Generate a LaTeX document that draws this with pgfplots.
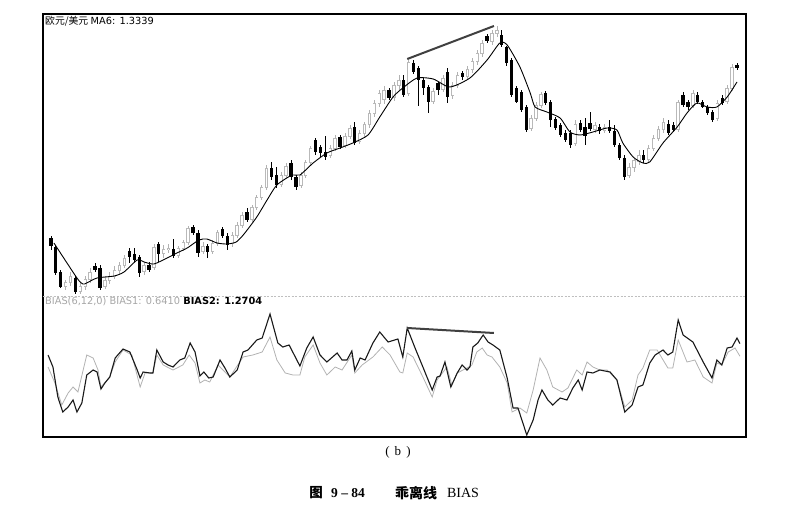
\documentclass[border=0pt]{standalone}
\usepackage{fontspec}
\setmainfont{Liberation Serif}
\newfontfamily\cjk{Noto Sans CJK SC}
\newfontfamily\dejavu{DejaVu Sans}
\usepackage{pgfplots}
\usepackage{pgfplotstable}
\pgfplotsset{compat=1.18}

% EUR/USD daily candles (falling = black, rising = hollow grey)
\pgfplotstableread{
i o h l c
0 62 64 50 54
1 53 55 25 27
2 28 30 12 13
5 22 24 6 8
9 34 37 28 30
10 32 35 10 12
16 49 52 37 43
17 46 52 38 40
18 43 45 23 27
20 35 38 28 30
22 56 58 38 46
25 51 61 42 44
29 73 75 65 67
30 67 70 43 47
32 54 56 42 48
35 71 73 62 64
36 64 67 50 55
40 88 92 78 80
45 132 138 120 123
46 125 133 112 115
49 137 140 120 123
50 123 125 110 113
54 160 162 145 148
55 153 155 143 147
56 148 164 140 143
59 163 165 151 153
62 173 178 155 157
69 210 212 200 202
72 220 225 203 205
74 237 240 226 228
75 232 234 194 220
76 220 222 205 212
77 213 215 187 198
79 217 218 205 210
81 228 232 197 203
84 227 229 220 223
89 264 266 257 259
92 265 270 253 255
93 253 254 234 237
94 240 242 203 205
95 212 214 197 198
96 208 210 188 190
97 193 195 168 170
101 207 209 195 197
102 198 200 173 180
103 181 183 170 172
104 175 177 163 165
105 167 170 158 160
106 167 170 152 155
108 177 180 168 170
109 173 182 155 164
110 177 188 169 171
112 173 176 166 169
114 173 180 167 169
115 169 175 153 155
116 155 157 140 142
117 142 145 120 123
121 145 150 137 140
126 176 180 165 167
127 175 178 168 170
129 205 208 193 195
130 198 200 190 193
132 205 208 196 198
133 198 200 192 193
134 193 195 185 187
135 188 190 178 180
137 202 205 195 197
140 235 237 230 232
}\down

\pgfplotstableread{
i o h l c
3 13 20 10 18
4 17 28 14 24
6 8 17 6 14
7 13 24 10 21
8 20 32 17 28
11 13 24 11 20
12 19 28 16 24
13 23 34 21 30
14 29 38 26 35
15 34 45 32 42
19 28 38 25 35
21 32 56 30 53
23 46 55 42 51
24 50 56 47 52
26 44 54 42 52
27 51 60 49 58
28 57 74 55 72
31 48 58 46 54
33 48 60 46 57
34 56 70 54 68
37 56 68 53 65
38 64 78 62 75
39 74 88 72 85
41 80 95 78 93
42 92 105 90 103
43 102 115 100 113
44 112 135 110 132
47 115 128 113 125
48 124 137 122 134
51 114 128 112 125
52 124 140 122 138
53 137 154 135 152
57 144 155 142 152
58 151 165 149 162
60 154 167 152 164
61 163 175 161 172
63 158 170 156 167
64 166 178 163 176
65 175 190 172 187
66 186 200 183 197
67 196 210 193 207
68 200 214 196 210
70 202 218 199 215
71 214 225 210 220
73 206 242 204 238
78 198 212 196 209
80 210 225 208 222
82 204 218 201 215
83 214 228 212 225
85 223 234 220 231
86 230 242 227 239
87 238 250 235 247
88 246 260 243 257
90 258 270 255 267
91 266 274 263 270
98 171 185 169 182
99 181 198 179 195
100 194 208 192 206
107 156 180 154 176
111 170 178 167 175
113 169 176 167 173
118 124 137 122 133
119 132 142 128 140
120 138 150 135 145
122 140 155 138 152
123 151 165 149 162
124 161 174 159 171
125 170 182 167 178
128 170 200 168 198
131 194 210 192 207
136 181 200 179 197
138 198 215 196 212
139 211 236 209 233
}\up

% MA6
\pgfplotstableread{
i v
0.6 57
5.3 22
6.5 16
7.3 17
9.4 22
12.9 24
14.9 28
17.6 40
19.0 38
21.0 36
23.7 42
25.7 47
27.8 52
30.2 60
31.8 61
33.9 57
35.9 56
37.8 58
39.4 66
42.0 83
44.1 100
46.1 115
49.2 125
50.8 125
53.5 137
56.3 147
59.0 152
61.6 157
64.7 165
67.1 183
69.8 203
71.8 212
74.7 222
78.0 221
81.4 213
85.5 222
89.0 240
91.6 257
93.1 255
95.7 233
97.8 207
98.8 193
101.2 188
103.9 182
105.9 168
108.0 165
110.6 168
113.5 172
115.5 170
116.7 157
118.8 143
120.8 137
122.2 138
124.9 157
127.8 173
129.8 187
131.8 197
133.9 193
135.9 193
138.0 203
140.0 218
}\ma

% BIAS2 (12)
\pgfplotstableread{
i b
-0.6 0.70
0.4 0.10
1.4 -1.40
2.4 -2.15
3.5 -1.90
4.5 -1.55
5.3 -2.15
6.3 -1.70
7.3 -0.30
8.6 -0.05
9.4 -0.15
10.2 -1.00
11.0 -0.70
12.0 -0.40
13.1 0.55
14.7 1.00
16.1 0.85
17.6 -0.05
18.2 -0.45
18.8 -0.15
20.2 -0.20
20.8 -0.20
21.6 0.95
22.9 0.35
23.9 0.20
24.9 0.10
26.3 0.45
27.3 0.55
28.4 1.30
29.4 0.85
30.4 -0.35
31.2 -0.15
32.2 -0.45
33.1 -0.40
34.5 0.45
35.5 0.05
36.5 -0.40
38.0 -0.05
39.2 0.85
40.2 0.95
42.0 1.45
43.1 1.55
44.7 2.75
46.3 1.30
47.3 1.10
48.6 1.20
50.8 0.15
52.2 1.05
53.5 1.60
54.9 0.70
56.3 0.35
58.4 0.80
59.4 0.45
60.4 0.45
61.4 0.90
62.0 -0.05
63.1 0.55
64.1 0.45
65.7 1.30
67.1 1.85
68.8 1.35
70.8 1.50
71.8 0.60
72.7 2.05
74.3 1.05
75.9 0.10
77.8 -1.05
78.8 -0.40
79.4 -0.35
80.4 0.35
81.6 -0.90
82.9 -0.20
83.9 0.20
84.9 -0.05
85.5 0.10
86.1 1.10
87.1 1.30
88.2 1.70
89.2 1.35
90.2 1.20
91.6 0.95
93.1 -0.45
94.3 -1.95
95.3 -1.95
97.1 -3.30
98.4 -2.55
99.4 -1.55
100.2 -1.05
101.4 -1.55
102.4 -1.80
103.9 -1.45
105.3 -1.55
106.5 -0.95
107.6 -0.55
108.4 -1.05
109.4 -0.15
110.6 -0.20
112.0 -0.05
114.1 -0.15
115.5 -0.55
117.1 -2.15
118.6 -1.80
119.8 -0.90
120.8 -0.80
122.2 0.30
123.3 0.70
124.9 0.95
125.9 0.70
126.9 0.85
128.0 2.45
129.0 1.70
131.0 1.35
133.1 0.35
134.9 -0.45
135.9 0.45
136.9 0.20
138.0 1.05
139.0 1.10
140.0 1.55
140.6 1.27
}\biastwo

% BIAS1 (6)
\pgfplotstableread{
i b
-0.6 0.10
0.8 -0.70
2.2 -1.80
3.5 -1.20
4.5 -0.90
5.5 -1.15
7.3 0.70
8.6 0.55
9.6 -0.05
10.2 -0.90
12.0 -0.40
13.1 0.35
14.7 0.95
16.5 0.70
18.2 -0.90
19.2 -0.20
20.8 -0.20
21.6 0.70
22.9 0.20
24.9 -0.05
26.9 0.20
28.2 0.70
29.4 0.30
30.4 -0.70
31.4 -0.55
32.4 -0.65
34.1 0.20
36.5 -0.40
39.2 0.60
41.2 0.70
43.1 0.85
44.7 1.60
46.1 0.45
47.8 -0.20
49.4 -0.30
50.8 -0.30
51.8 0.60
53.5 1.20
54.9 0.30
56.3 -0.30
58.0 0.10
59.4 -0.05
61.4 0.70
62.0 -0.20
63.5 0.20
65.7 0.60
67.6 1.10
69.2 0.70
71.2 -0.15
71.8 -0.20
72.7 0.80
73.9 0.60
75.9 -0.40
77.8 -1.40
78.8 -0.55
80.8 0.10
81.8 -0.80
82.9 -0.20
84.9 0.05
85.9 0.20
86.9 0.85
88.0 1.05
89.0 0.70
90.0 0.60
91.6 0.10
93.1 -0.70
94.1 -2.15
95.7 -1.95
97.1 -2.20
98.4 -1.05
99.8 0.55
101.2 -0.05
102.4 -0.90
104.3 -1.15
105.5 -0.95
107.3 -0.05
108.4 -0.30
109.4 0.35
110.6 0.10
112.0 -0.05
113.5 -0.05
115.5 -0.55
117.1 -1.90
118.6 -1.55
119.8 -0.30
120.8 0.05
122.2 0.95
123.7 0.95
125.9 0.05
126.9 0.05
128.0 1.45
129.8 0.35
131.4 0.45
133.1 -0.40
134.9 -0.70
135.9 0.30
136.9 0.20
138.2 0.85
139.6 1.05
140.6 0.64
}\biasone

\pgfplotsset{
  candle/.style={draw=none, mark=none, error bars/.cd, y explicit, error mark=none},
}

\begin{document}
\begin{tikzpicture}
\useasboundingbox (0bp,0bp) rectangle (810bp,519bp);

% price panel
\begin{axis}[at={(43bp,223bp)}, anchor=south west, scale only axis,
    width=703bp, height=282bp,
    xmin=-1.63, xmax=141.84, ymin=4, ymax=286, hide axis]
    % rising candles: wick, grey outline, white inside
    \addplot[candle, y dir=plus,
        error bar style={line width=0.7bp, line cap=butt, draw=gray!60}]
        table[x=i, y=l, y error expr=\thisrow{h}-\thisrow{l}] {\up};
    \addplot[candle, y dir=both,
        error bar style={line width=3.4bp, line cap=butt, draw=gray!55}]
        table[x=i, y expr=(\thisrow{o}+\thisrow{c})/2, y error expr=(\thisrow{c}-\thisrow{o})/2] {\up};
    \addplot[candle, y dir=both,
        error bar style={line width=1.8bp, line cap=butt, draw=white}]
        table[x=i, y expr=(\thisrow{o}+\thisrow{c})/2, y error expr=(\thisrow{c}-\thisrow{o})/2-0.8] {\up};
    % falling candles
    \addplot[candle, y dir=plus,
        error bar style={line width=0.9bp, line cap=butt, draw=black}]
        table[x=i, y=l, y error expr=\thisrow{h}-\thisrow{l}] {\down};
    \addplot[candle, y dir=both,
        error bar style={line width=3.2bp, line cap=butt, draw=black}]
        table[x=i, y expr=(\thisrow{o}+\thisrow{c})/2, y error expr=(\thisrow{o}-\thisrow{c})/2] {\down};
    % MA6
    \addplot[black, line width=0.9bp, smooth, tension=0.4] table[x=i, y=v] {\ma};
    % trend line over the highs
    \addplot[black!75, line width=2bp] coordinates {(72.7,241) (90.4,274)};
\end{axis}

% BIAS panel
\begin{axis}[at={(43bp,82bp)}, anchor=south west, scale only axis,
    width=703bp, height=141bp,
    xmin=-1.63, xmax=141.84, ymin=-3.4, ymax=3.65, hide axis]
    \addplot[gray!60, line width=0.8bp] table[x=i, y=b] {\biasone};
    \addplot[black!90, line width=1.1bp] table[x=i, y=b] {\biastwo};
    \addplot[black!75, line width=2bp] coordinates {(72.7,2.05) (90.4,1.80)};
\end{axis}

% frame
\draw[black, line width=1.2bp] (43bp,82bp) rectangle (746bp,505bp);
\draw[gray!50, line width=0.6bp, dash pattern=on 2bp off 1.5bp] (43bp,223bp) -- (746bp,223bp);

\node[anchor=west, inner sep=0pt, font=\fontsize{9.8bp}{11bp}\selectfont] at (45bp,498bp)
    {{\cjk 欧元/美元} \dejavu MA6: 1.3339};
\node[anchor=west, inner sep=0pt, font=\fontsize{9.8bp}{11bp}\selectfont\dejavu] at (45bp,218bp)
    {\textcolor{gray!70}{BIAS(6,12,0) BIAS1: 0.6410} \bfseries BIAS2: 1.2704};

\node[font=\fontsize{13bp}{15bp}\selectfont] at (398bp,67bp) {(\hspace{5bp}b\hspace{5bp})};
\node[font=\fontsize{13.5bp}{15bp}\selectfont\cjk\bfseries] at (316bp,26bp) {图};
\node[font=\fontsize{13.5bp}{15bp}\selectfont\bfseries] at (348bp,26bp) {9 – 84};
\node[font=\fontsize{14bp}{15bp}\selectfont\cjk\bfseries] at (416bp,26bp) {乖离线};
\node[font=\fontsize{14bp}{15bp}\selectfont] at (463bp,26bp) {BIAS};
\end{tikzpicture}
\end{document}
